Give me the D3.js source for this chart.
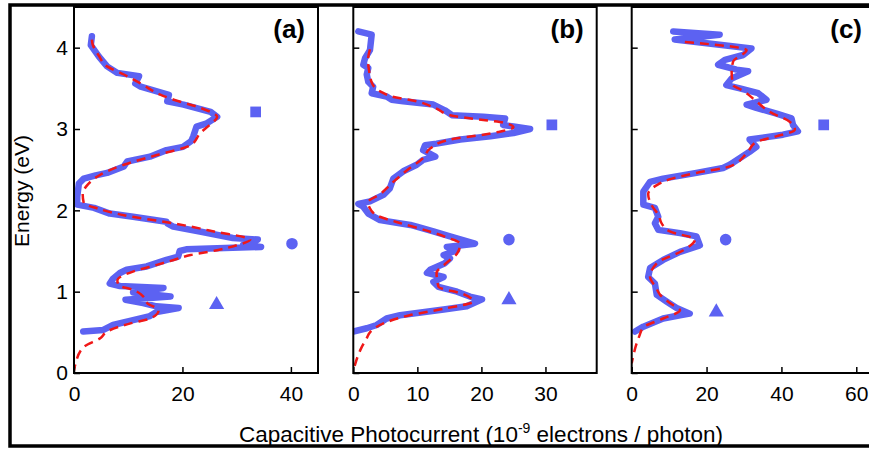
<!DOCTYPE html>
<html lang="en">
<head>
<meta charset="utf-8">
<title>Capacitive photocurrent spectra</title>
<script src="https://d3js.org/d3.v7.min.js"></script>
<style>
  body { margin: 0; background: #fff; }
  text { font-family: Arial, "Liberation Sans", sans-serif; fill: #000; }
</style>
</head>
<body>
<svg id="chart" width="869" height="449"></svg>
<script>
// ---- data: each point is [energy (eV), photocurrent (1e-9 e/photon)] ----
var panelNames = ['(a)', '(b)', '(c)'];
var energyTicks = [0, 1, 2, 3, 4];
var currentTicksA = [0, 20, 40];
var currentTicksB = [0, 10, 20, 30];
var currentTicksC = [0, 20, 40, 60];
var currentMax = [45, 38, 65];

var measuredA = [[4.14,3.3],[4.03,3.1],[3.89,4.6],[3.77,6.1],[3.69,8],[3.65,12],[3.56,11.3],[3.52,12.3],
  [3.42,17.5],[3.34,17.2],[3.30,20.2],[3.21,25.2],[3.15,26.4],[3.07,24.5],[3.03,22.6],[2.91,22],
  [2.85,21.6],[2.78,20.1],[2.74,17.05],[2.66,14],[2.60,9.8],[2.54,9.2],[2.46,6.1],[2.43,4],[2.39,1.8],
  [2.33,0.9],[2.17,0.6],[2.07,0.6],[2.03,3.7],[1.96,6.6],[1.92,10.9],[1.86,17.05],[1.84,17.2],[1.80,18.3],
  [1.74,23.2],[1.66,29.3],[1.64,33.9],[1.575,31.2],[1.55,34.5],[1.52,20.7],[1.50,19.5],[1.43,19.2],
  [1.39,17.05],[1.31,13.4],[1.27,9.7],[1.23,8.46],[1.16,7.2],[1.10,6.6],[1.07,8.46],[1.045,16.5],
  [0.99,10.9],[0.94,17.8],[0.90,9.5],[0.86,12.75],[0.82,15.2],[0.80,19.3],[0.75,15.2],[0.70,14],
  [0.65,10.9],[0.59,7.2],[0.53,5.4],[0.51,1.7]];
var fitA = [[4.1,3.3],[4.05,3.4],[3.9,4.6],[3.77,6.1],[3.67,9.2],[3.56,12.3],[3.42,16],[3.36,18.4],
  [3.26,23.3],[3.15,26.4],[3.05,25],[2.95,23.3],[2.8,21.5],[2.68,15.3],[2.56,9.2],[2.44,4.9],[2.31,2.45],
  [2.2,1.6],[2.09,1.8],[2.02,4.5],[1.94,9.2],[1.84,18.4],[1.74,25.8],[1.64,32.5],[1.57,30],[1.51,26.4],
  [1.45,21.5],[1.39,18.4],[1.33,15.3],[1.25,11],[1.14,8],[1.08,8.2],[1.02,11],[0.94,12.8],[0.86,13.5],
  [0.77,15.6],[0.67,14.1],[0.61,10.4],[0.51,6.1],[0.43,4.9],[0.32,1.8],[0.12,0.3],[0.03,0]];

var measuredB = [[4.2,0.78],[4.16,2.87],[3.97,2.6],[3.87,1.83],[3.79,1.56],[3.75,2.34],[3.67,2.1],
  [3.58,2.34],[3.52,3.1],[3.44,2.87],[3.40,5.2],[3.36,6.0],[3.34,7.8],[3.30,12.5],[3.23,14.3],[3.17,15.4],
  [3.15,20.3],[3.13,23.7],[3.05,23.4],[3.03,25.0],[3.0,27.6],[2.95,25.0],[2.91,21.4],[2.87,16.7],
  [2.82,13.0],[2.80,11.2],[2.74,10.9],[2.66,12.8],[2.62,10.9],[2.56,9.9],[2.48,7.8],[2.39,6.25],
  [2.27,5.7],[2.19,4.7],[2.11,2.6],[2.08,0.78],[2.05,1.5],[1.96,2.34],[1.88,4.17],[1.82,8.9],[1.80,9.9],
  [1.74,12.5],[1.68,15.1],[1.59,19.0],[1.55,14.6],[1.51,16.2],[1.45,14.1],[1.41,15.1],[1.35,14.3],
  [1.27,12.0],[1.23,11.5],[1.18,14.1],[1.12,12.5],[1.06,13.3],[1.0,16.2],[0.94,18.2],[0.905,20.1],
  [0.82,17.7],[0.78,14.1],[0.71,7.3],[0.67,5.2],[0.59,3.65],[0.55,2.1],[0.51,0]];
var fitB = [[3.98,2.6],[3.85,2.3],[3.7,2.5],[3.55,3.0],[3.45,4.5],[3.4,6],[3.34,9.9],[3.25,13],
  [3.17,15.1],[3.11,20.3],[3.08,23.4],[3.02,25],[2.97,23],[2.93,20.3],[2.87,15.1],[2.76,12],[2.65,11],
  [2.5,8.5],[2.35,6.25],[2.2,4.2],[2.1,2.3],[2.04,2.5],[1.94,3.6],[1.85,7],[1.75,11.5],[1.67,14.5],
  [1.59,16.7],[1.47,16.2],[1.35,14.5],[1.23,13],[1.06,13.3],[0.97,17.2],[0.88,18.75],[0.79,14.1],
  [0.71,8.8],[0.61,4.7],[0.5,2.6],[0.43,2.1],[0.3,1.2],[0.1,0.26],[0.02,0]];

var measuredC = [[4.2,11.1],[4.16,23.5],[4.10,11.5],[3.99,32],[3.91,29.8],[3.85,24.9],[3.79,23.1],
  [3.73,28],[3.71,31.1],[3.62,26.7],[3.54,25.3],[3.50,28.9],[3.44,33.8],[3.36,36.0],[3.30,30.7],
  [3.26,33.3],[3.19,38.7],[3.13,42.7],[3.05,43.1],[2.97,44.4],[2.93,40.4],[2.87,31.5],[2.78,33.3],
  [2.72,31.5],[2.56,26.2],[2.52,24.4],[2.46,17.3],[2.39,8.4],[2.35,4.9],[2.23,3.1],[2.07,3.1],
  [2.03,6.2],[1.92,7.1],[1.84,6.2],[1.76,7.1],[1.72,12.9],[1.68,17.3],[1.57,18.2],[1.49,12.9],
  [1.39,8.4],[1.29,4.9],[1.18,4.4],[1.10,6.2],[0.96,6.7],[0.88,9.3],[0.80,12.0],[0.73,15.5],
  [0.71,12.9],[0.67,8.4],[0.57,3.1],[0.51,0.9]];
var fitC = [[4.07,14.2],[3.97,30.7],[3.83,27.1],[3.7,26.7],[3.54,27.1],[3.47,29.8],[3.34,33.3],
  [3.21,36.9],[3.09,42.2],[2.99,43.6],[2.91,38.6],[2.84,33.3],[2.70,30.7],[2.54,26.2],[2.46,17.3],
  [2.38,10],[2.31,6.7],[2.2,4.4],[2.05,5.5],[1.94,7.2],[1.84,8],[1.74,10.2],[1.64,16.9],[1.51,13.8],
  [1.35,6.7],[1.18,4.9],[1.05,6.5],[0.96,7.6],[0.85,10.5],[0.77,12.9],[0.67,8.4],[0.56,3.1],
  [0.45,2.0],[0.36,1.3],[0.12,0]];

// marker positions [energy, current] : square, circle, triangle
var markersA = [[3.21,33.5],[1.59,40.2],[0.84,26.3]];
var markersB = [[3.05,31],[1.64,24.3],[0.90,24.3]];
var markersC = [[3.05,51.3],[1.64,25.1],[0.75,22.6]];

// ---- layout ----
var blue = '#5c62f2', red = '#f01818';
var plotTop = 7, plotBottom = 373;
var panels = [
  { left: 74,    right: 318,   ticks: currentTicksA, meas: measuredA, fit: fitA, marks: markersA },
  { left: 353.3, right: 596.7, ticks: currentTicksB, meas: measuredB, fit: fitB, marks: markersB },
  { left: 631.7, right: 875,   ticks: currentTicksC, meas: measuredC, fit: fitC, marks: markersC }
];
var shapes = [d3.symbolSquare, d3.symbolCircle, d3.symbolTriangle];
var shapeSize = [115, 105, 100];
var fontFam = 'Arial, "Liberation Sans", sans-serif';

var svg = d3.select('#chart');
var y = d3.scaleLinear().domain([0, 4.5]).range([plotBottom, plotTop]);

panels.forEach(function (p, i) {
  var x = d3.scaleLinear().domain([0, currentMax[i]]).range([p.left, p.right]);
  var g = svg.append('g');

  g.append('clipPath').attr('id', 'clip' + i)
    .append('rect').attr('x', p.left).attr('y', plotTop)
    .attr('width', p.right - p.left).attr('height', plotBottom - plotTop);

  var plot = g.append('g').attr('clip-path', 'url(#clip' + i + ')');

  var line = d3.line()
    .x(function (d) { return x(d[1]); })
    .y(function (d) { return y(d[0]); });

  plot.append('path').datum(p.meas)
    .attr('d', line)
    .attr('fill', 'none').attr('stroke', blue)
    .attr('stroke-width', 6.5).attr('stroke-linejoin', 'round').attr('stroke-linecap', 'round');

  plot.append('path').datum(p.fit)
    .attr('d', line.curve(d3.curveMonotoneY))
    .attr('fill', 'none').attr('stroke', red)
    .attr('stroke-width', 2.5).attr('stroke-dasharray', '9,6');

  plot.selectAll('.mark').data(p.marks).enter().append('path')
    .attr('transform', function (d) { return 'translate(' + x(d[1]) + ',' + y(d[0]) + ')'; })
    .attr('d', function (d, k) { return d3.symbol().type(shapes[k]).size(shapeSize[k])(); })
    .attr('fill', blue);

  // axes with inward ticks
  var xAxis = d3.axisBottom(x).tickValues(p.ticks).tickFormat(d3.format('d'))
    .tickSizeInner(-6).tickSizeOuter(0).tickPadding(13);
  var xg = g.append('g').attr('transform', 'translate(0,' + plotBottom + ')').call(xAxis);
  xg.select('.domain').remove();
  xg.attr('font-size', 21).attr('font-family', fontFam);
  xg.selectAll('line').attr('stroke-width', 1.5);

  var yAxis = d3.axisLeft(y).tickValues(energyTicks).tickFormat(d3.format('d'))
    .tickSizeInner(-6).tickSizeOuter(0).tickPadding(6);
  var yg = g.append('g').attr('transform', 'translate(' + p.left + ',0)').call(yAxis);
  yg.select('.domain').remove();
  yg.attr('font-size', 21).attr('font-family', fontFam);
  yg.selectAll('line').attr('stroke-width', 1.5);
  if (i !== 0) yg.selectAll('text').remove();

  g.append('rect')
    .attr('x', p.left).attr('y', plotTop)
    .attr('width', p.right - p.left).attr('height', plotBottom - plotTop)
    .attr('fill', 'none').attr('stroke', '#000').attr('stroke-width', 2);

  g.append('text')
    .attr('x', p.right - 13).attr('y', 38)
    .attr('text-anchor', 'end')
    .attr('font-size', 26).attr('font-weight', 'bold')
    .text(panelNames[i]);
});

// axis titles
var xl = svg.append('text')
  .attr('x', 481).attr('y', 442)
  .attr('text-anchor', 'middle').attr('font-size', 22.5);
xl.append('tspan').text('Capacitive Photocurrent (10');
xl.append('tspan').attr('dy', -9).attr('font-size', 14).text('-9');
xl.append('tspan').attr('dy', 9).text(' electrons / photon)');

svg.append('text')
  .attr('transform', 'translate(29,191) rotate(-90)')
  .attr('text-anchor', 'middle').attr('font-size', 21)
  .text('Energy (eV)');

// outer frame
svg.append('rect')
  .attr('x', 10).attr('y', 5).attr('width', 900).attr('height', 441)
  .attr('fill', 'none').attr('stroke', '#000').attr('stroke-width', 3.5);
</script>
</body>
</html>
